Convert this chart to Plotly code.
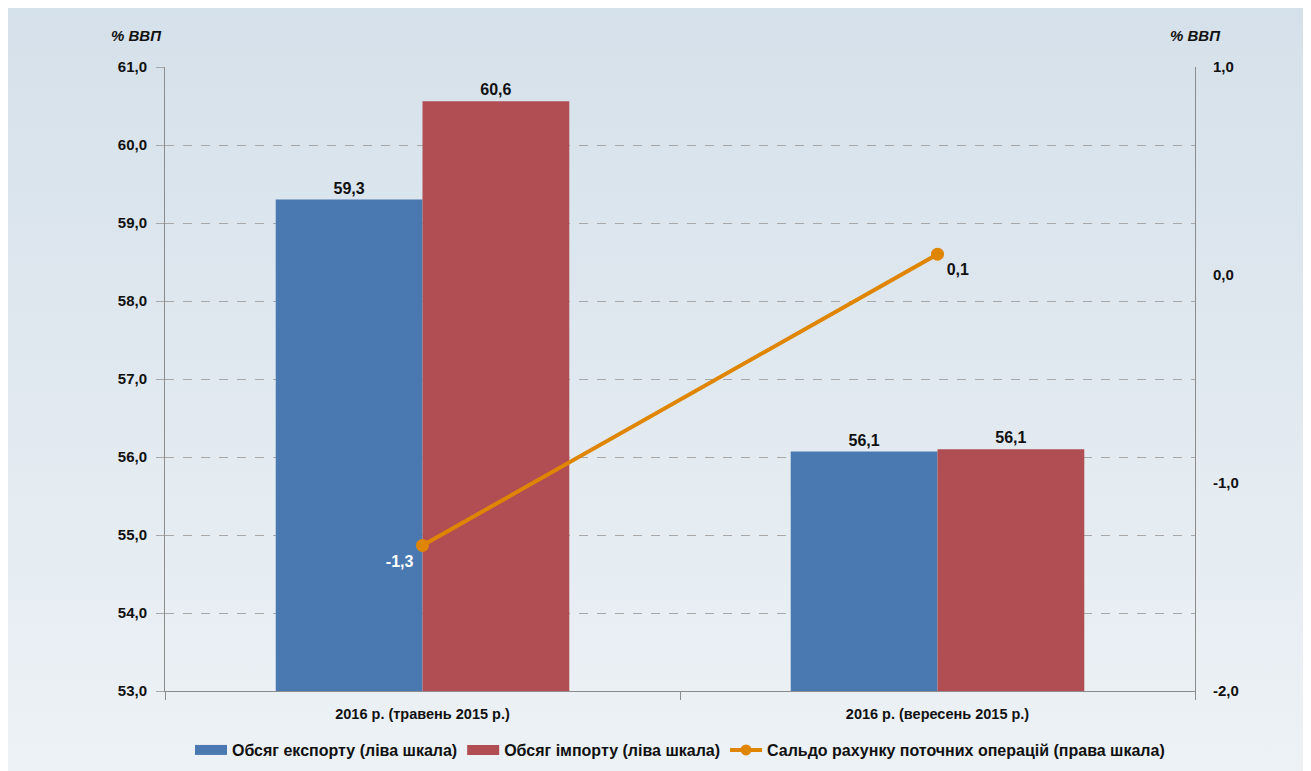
import base64
import plotly.graph_objects as go

categories = ["2016 р. (травень 2015 р.)", "2016 р. (вересень 2015 р.)"]
export_vals = [59.3, 56.07]
import_vals = [60.56, 56.1]
balance_vals = [-1.3, 0.1]
export_labels = ["59,3", "56,1"]
import_labels = ["60,6", "56,1"]
balance_labels = ["-1,3", "0,1"]
left_ticks = [53, 54, 55, 56, 57, 58, 59, 60, 61]
left_labels = ["53,0", "54,0", "55,0", "56,0", "57,0", "58,0", "59,0", "60,0", "61,0"]
right_ticks = [-2, -1, 0, 1]
right_labels = ["-2,0", "-1,0", "0,0", "1,0"]

FONT = "Liberation Sans, Arial, sans-serif"
BLUE = "#4a79b1"
RED = "#b04e53"
ORANGE = "#df8500"
TXT = "#111111"

svg = ('<svg xmlns="http://www.w3.org/2000/svg" width="100" height="100" preserveAspectRatio="none">'
       '<defs><linearGradient id="g" x1="0" y1="0" x2="0" y2="1">'
       '<stop offset="0" stop-color="#d3dfe9"/><stop offset="1" stop-color="#f0f4f7"/>'
       '</linearGradient></defs><rect width="100" height="100" fill="url(#g)"/></svg>')
bg = "data:image/svg+xml;base64," + base64.b64encode(svg.encode()).decode()

fig = go.Figure()
fig.add_trace(go.Bar(
    x=categories, y=export_vals, name="Обсяг експорту (ліва шкала)", showlegend=False,
    marker=dict(color=BLUE, line=dict(width=0)),
    text=export_labels, textposition="outside", cliponaxis=False,
    textfont=dict(family=FONT, size=16, color=TXT, weight="bold"),
))
fig.add_trace(go.Bar(
    x=categories, y=import_vals, name="Обсяг імпорту (ліва шкала)", showlegend=False,
    marker=dict(color=RED, line=dict(width=0)),
    text=import_labels, textposition="outside", cliponaxis=False,
    textfont=dict(family=FONT, size=16, color=TXT, weight="bold"),
))
fig.add_trace(go.Scatter(
    x=categories, y=balance_vals, name="Сальдо рахунку поточних операцій (права шкала)",
    yaxis="y2", mode="lines+markers+text", showlegend=False,
    line=dict(color=ORANGE, width=4),
    marker=dict(color=ORANGE, size=13),
    text=balance_labels, textposition=["bottom left", "bottom right"],
    textfont=dict(family=FONT, size=16, color=["#ffffff", TXT], weight="bold"),
    cliponaxis=False,
))
# legend entries
fig.add_trace(go.Scatter(x=[None], y=[None], mode="lines", name="Обсяг експорту (ліва шкала)",
                         line=dict(color=BLUE, width=12)))
fig.add_trace(go.Scatter(x=[None], y=[None], mode="lines", name="Обсяг імпорту (ліва шкала)",
                         line=dict(color=RED, width=12)))
fig.add_trace(go.Scatter(x=[None], y=[None], mode="lines+markers", yaxis="y2",
                         name="Сальдо рахунку поточних операцій (права шкала)",
                         line=dict(color=ORANGE, width=4), marker=dict(color=ORANGE, size=11)))

fig.update_layout(
    width=1311, height=771,
    margin=dict(l=157, r=124, t=59, b=88, autoexpand=False),
    paper_bgcolor="#e3eaf0", plot_bgcolor="rgba(0,0,0,0)",
    images=[dict(source=bg, xref="paper", yref="paper", x=-0.2, y=1.2,
                 sizex=1.5, sizey=1.5, sizing="stretch", layer="below",
                 xanchor="left", yanchor="top")],
    font=dict(family=FONT, size=15, color=TXT, weight="bold"),
    barmode="group", bargap=0.43, bargroupgap=0,
    showlegend=True,
    legend=dict(orientation="h", x=0.5, xanchor="center", y=-0.0946, yanchor="middle",
                font=dict(family=FONT, size=16, color=TXT, weight="bold"),
                bgcolor="rgba(0,0,0,0)", itemwidth=32, tracegroupgap=0, traceorder="normal"),
    xaxis=dict(showline=True, linecolor="#8c8c8c", linewidth=1,
               ticks="outside", tickson="boundaries", ticklen=8, tickcolor="#8c8c8c",
               ticklabelstandoff=10,
               tickfont=dict(family=FONT, size=14.5, color=TXT, weight="bold"), showgrid=False),
    yaxis=dict(range=[53, 61], tickmode="array", tickvals=left_ticks, ticktext=left_labels,
               showline=True, linecolor="#8c8c8c", linewidth=1,
               ticks="outside", ticklen=8, tickcolor="#a8a8a8", ticklabelstandoff=6,
               showgrid=True, gridcolor="#a8a8a8", griddash="dash", gridwidth=1,
               zeroline=False,
               tickfont=dict(family=FONT, size=15, color=TXT, weight="bold")),
    yaxis2=dict(range=[-2, 1], tickmode="array", tickvals=right_ticks, ticktext=right_labels,
                overlaying="y", side="right",
                showline=True, linecolor="#8c8c8c", linewidth=1,
                ticks="", ticklabelstandoff=14,
                showgrid=False, zeroline=False,
                tickfont=dict(family=FONT, size=15, color=TXT, weight="bold")),
    annotations=[
        dict(text="<i>% ВВП</i>", xref="paper", yref="paper", x=-0.001, y=1.051,
             xanchor="right", yanchor="middle", showarrow=False,
             font=dict(family=FONT, size=15, color=TXT, weight="bold")),
        dict(text="<i>% ВВП</i>", xref="paper", yref="paper", x=1.027, y=1.051,
             xanchor="right", yanchor="middle", showarrow=False,
             font=dict(family=FONT, size=15, color=TXT, weight="bold")),
    ],
)

fig.write_html("out.html")
